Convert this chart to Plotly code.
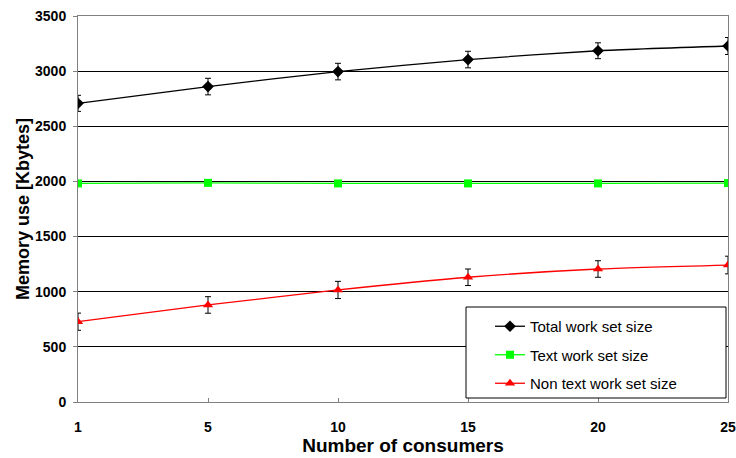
import plotly.graph_objects as go

consumers = ["1", "5", "10", "15", "20", "25"]
total = [2708, 2860, 2996, 3105, 3185, 3228]
total_err = [73, 75, 75, 75, 72, 77]
text_ws = [1982, 1987, 1982, 1982, 1982, 1985]
nontext = [728, 880, 1016, 1131, 1206, 1242]
nontext_err = [78, 75, 78, 75, 75, 80]

xi = list(range(len(consumers)))
fnt = "Liberation Sans, Arial, sans-serif"

W, H = 736, 458
L, R, T, B = 78, 8, 16, 56
pw, ph = W - L - R, H - T - B

fig = go.Figure()
fig.add_trace(go.Scatter(
    x=xi, y=total, name="Total work set size", mode="lines+markers", legendgroup="a",
    line=dict(color="black", width=1.3, shape="spline", smoothing=0.6),
    marker=dict(symbol="diamond", size=9, color="black"),
    error_y=dict(type="data", array=total_err, color="black", thickness=1, width=3),
))
fig.add_trace(go.Scatter(
    x=xi, y=text_ws, name="Text work set size", mode="lines+markers", legendgroup="b",
    line=dict(color="#00ff00", width=1.3, shape="spline", smoothing=0.6),
    marker=dict(symbol="square", size=8, color="#00ff00"),
))
fig.add_trace(go.Scatter(
    x=xi, y=nontext, name="Non text work set size", mode="lines+markers", legendgroup="c",
    line=dict(color="red", width=1.3, shape="spline", smoothing=0.6),
    marker=dict(symbol="triangle-up", size=9, color="red"),
    error_y=dict(type="data", array=nontext_err, color="black", thickness=1, width=3),
))

# legend frame (page pixels -> paper coords)
fig.add_shape(type="rect", xref="paper", yref="paper",
              x0=(466 - L) / pw, x1=(726 - L) / pw,
              y0=(H - B - 398) / ph, y1=(H - B - 307) / ph,
              line=dict(color="black", width=1), fillcolor="white", layer="above")

fig.update_layout(
    width=W, height=H,
    margin=dict(l=L, r=R, t=T, b=B, autoexpand=False),
    paper_bgcolor="white", plot_bgcolor="white",
    font=dict(family=fnt, color="black"),
    showlegend=True,
    legend=dict(
        x=(490 - L) / pw, y=(H - B - 310) / ph, xanchor="left", yanchor="top",
        bgcolor="rgba(0,0,0,0)", borderwidth=0,
        font=dict(size=15, family=fnt),
        itemwidth=30, tracegroupgap=6,
    ),
    xaxis=dict(
        range=[0, 5], tickmode="array", tickvals=xi, ticktext=consumers,
        showgrid=False, zeroline=False, automargin=False,
        showline=True, linecolor="#808080", linewidth=1, mirror=True,
        ticks="inside", ticklen=4, tickcolor="#808080",
        tickfont=dict(size=14, family=fnt, weight="bold"),
        ticklabelstandoff=12, ticklabeloverflow="allow",
        title=dict(text="<b>Number of consumers</b>", font=dict(size=19, family=fnt), standoff=4),
    ),
    yaxis=dict(
        range=[0, 3500], tickmode="linear", tick0=0, dtick=500,
        showgrid=True, gridcolor="black", gridwidth=1, zeroline=False, automargin=False,
        showline=True, linecolor="#808080", linewidth=1, mirror=True,
        ticks="outside", ticklen=4, tickcolor="#808080",
        tickfont=dict(size=14, family=fnt, weight="bold"),
        ticklabelstandoff=4, ticklabeloverflow="allow",
        title=dict(text="<b>Memory use [Kbytes]</b>", font=dict(size=18, family=fnt), standoff=0),
    ),
)

fig.write_html(
    "out.html",
    config={"displayModeBar": False},
    post_script="document.body.style.margin='0';document.body.style.overflow='hidden';",
)
